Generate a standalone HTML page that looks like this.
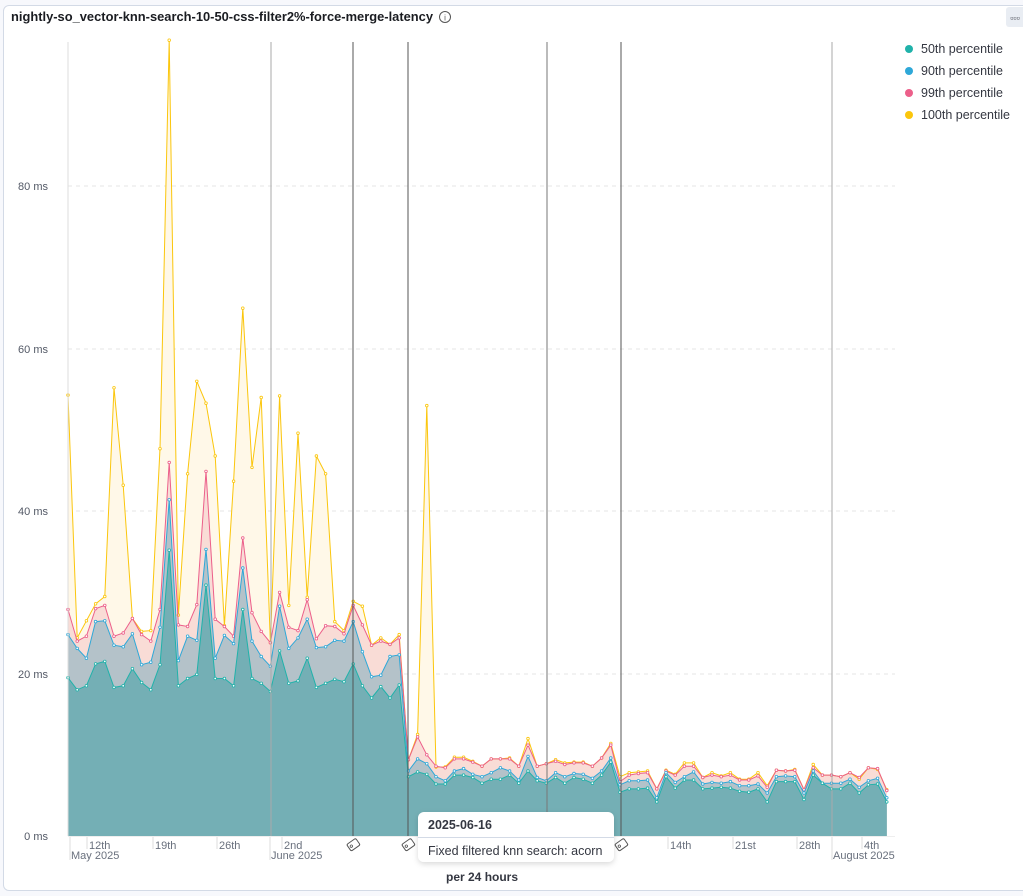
<!DOCTYPE html>
<html><head><meta charset="utf-8"><style>
html,body{margin:0;padding:0;background:#f7f8fc;width:1023px;height:896px;overflow:hidden;font-family:"Liberation Sans",sans-serif}
#panel{position:absolute;left:3px;top:5px;width:1030px;height:884px;background:#fff;border:1px solid #d3dae6;border-radius:6px}
</style></head><body>
<div id="panel"></div>
<svg id="s" width="1023" height="896" style="position:absolute;left:0;top:0" xmlns="http://www.w3.org/2000/svg" font-family="Liberation Sans, sans-serif">
<text x="11" y="21" font-size="13" font-weight="bold" fill="#1a1c21" textLength="422" lengthAdjust="spacingAndGlyphs">nightly-so_vector-knn-search-10-50-css-filter2%-force-merge-latency</text>
<circle cx="445" cy="17" r="5.5" fill="none" stroke="#555" stroke-width="1"/>
<text x="445" y="20.5" font-size="8" text-anchor="middle" fill="#555">i</text>
<rect x="1006" y="7" width="20" height="20" rx="3" fill="#e9edf3"/>
<text x="1015" y="21" font-size="9" fill="#343741" text-anchor="middle">▫▫▫</text>
<g id="grid" stroke="#e6e6e6" stroke-dasharray="4,4" stroke-width="1">
<line x1="68" x2="895" y1="186" y2="186"/><line x1="68" x2="895" y1="349" y2="349"/><line x1="68" x2="895" y1="511" y2="511"/><line x1="68" x2="895" y1="674" y2="674"/>
</g>
<g font-size="11" fill="#535966" text-anchor="end">
<text x="48" y="190">80 ms</text><text x="48" y="353">60 ms</text><text x="48" y="515">40 ms</text><text x="48" y="678">20 ms</text><text x="48" y="840">0 ms</text>
</g>
<g id="areas"></g>
<g id="ann"></g>
<g id="xaxis" font-size="11" fill="#69707d"></g>
<g font-size="12.5" fill="#343741">
<circle cx="909" cy="49" r="4" fill="#20b2aa"/><text x="921" y="53">50th percentile</text>
<circle cx="909" cy="71" r="4" fill="#2ea8d8"/><text x="921" y="75">90th percentile</text>
<circle cx="909" cy="93" r="4" fill="#ec5f8a"/><text x="921" y="97">99th percentile</text>
<circle cx="909" cy="115" r="4" fill="#fbc60c"/><text x="921" y="119">100th percentile</text>
</g>
<defs><filter id="sh" x="-10%" y="-20%" width="120%" height="150%"><feDropShadow dx="0" dy="2" stdDeviation="3" flood-color="#000" flood-opacity="0.15"/></filter></defs>
<rect x="418" y="812" width="196" height="50" rx="6" fill="#fff" filter="url(#sh)"/>
<line x1="418" x2="614" y1="837.5" y2="837.5" stroke="#d3dae6"/>
<text x="428" y="829" font-size="12.5" font-weight="bold" fill="#343741">2025-06-16</text>
<text x="428" y="855" font-size="12.5" fill="#343741">Fixed filtered knn search: acorn</text>
<text x="446" y="881" font-size="12" font-weight="bold" fill="#343741">per 24 hours</text>
</svg>
<script>
var y100=[54.3,24.4,26.5,28.6,29.5,55.2,43.2,26.8,25.2,25.3,47.7,98,27.2,44.6,56,53.3,46.8,25.9,43.7,65,45.4,54,23.8,54.2,28.4,49.6,29.4,46.8,44.6,26.4,25.3,28.9,28.3,23.5,24.4,23.6,24.8,
9.4,12.5,53,8.5,8.5,9.7,9.7,9.2,8.6,9.5,9.5,9.6,8.6,12,8.6,8.9,9.4,9,9.1,9.1,8.6,9.6,11.4,7.3,7.8,7.9,8,5.8,8.1,7.6,9,9,7.2,7.8,7.4,7.8,7,7,7.8,6.2,8.1,8,8.2,5.7,8.8,7.5,7.5,7.3,7.8,7,8.4,8.2,5.7];
var y99=[27.9,24,24.6,28,28.4,24.6,25,26.8,24.8,24,27.9,46,26,25.8,28.5,44.9,26.7,25.8,24.6,36.7,27.5,25.2,23.8,30,25.7,25.3,29.1,24.3,25.9,25.8,24.9,28.4,26,23.5,24,23.6,24.4,
9.4,12.2,10,8.6,8.4,9.5,9.5,9.1,8.6,9.5,9.5,9.5,8.6,11.2,8.6,8.9,9.2,8.8,9,9,8.6,9.6,11.2,6.7,7.5,7.7,7.8,5.8,8,7.5,8.6,8.6,7.2,7.5,7.3,7.5,6.9,6.9,7.4,6,8.1,8,8.1,5.7,8.4,7.5,7.5,7.3,7.8,7.2,8.4,8.3,5.6];
var y90=[24.8,23.1,21.9,26.4,26.5,23.5,23.3,24.9,21.1,21.4,25.7,41.4,21.6,24.6,24.1,35.3,21.9,24.7,23.7,33,24,22.1,20.9,28.3,23.1,24.4,26.7,23.2,23.3,24.1,24,26.4,22.7,19.6,19.8,22.1,22.3,
8,9.5,8.9,7.3,6.8,8,8.3,7.6,7.3,7.8,8.4,8,6.9,9.8,7.2,6.8,7.8,7.3,7.7,7.6,7.1,8,9.6,6.3,6.8,6.8,6.9,4.7,7.8,6.6,7.3,7.9,6.4,6.6,6.5,6.7,6.2,6.2,6.4,5.3,7.3,7.4,7.3,5.3,8,6.5,6.5,6.5,7,6,6.8,7.1,4.7];
var y50=[19.5,18,18.5,21.2,21.5,18.3,18.5,20.6,18.9,18,21.1,35.2,18.5,19.4,19.9,30.9,19.4,19.4,18.5,27.9,19.4,18.8,17.8,22.8,18.8,19.1,21.9,18.3,18.8,19.3,19,21.2,18.5,17,18.4,17,18.6,
7.3,7.9,7.6,6.4,6.4,7.5,7.5,7.2,6.5,7,7,7.5,6.5,8,6.8,6.5,7.2,6.5,7.2,7,6.5,7.5,9.1,5.4,5.8,5.8,5.9,4.2,7.3,5.9,6.9,6.9,5.8,5.9,6,5.9,5.5,5.4,5.8,4.2,6.7,6.7,6.7,4.5,7.5,6.5,5.8,5.8,6.5,5.3,6.3,6.4,4.2];
function X(i){return 68+i*9.2}function Y(v){return 836-v*8.12}
var g=document.getElementById('areas'),h='';
var ser=[[y100,'#fff8e8','#fbc60c'],[y99,'#f9dcd6','#ec5f8a'],[y90,'#b4c2c9','#2ea8d8'],[y50,'#74afb5','#20b2aa']];
ser.forEach(function(s){var pts=s[0].map(function(v,i){return X(i).toFixed(1)+','+Y(v).toFixed(1)}).join(' ');
h+='<polygon points="68,836 '+pts+' '+X(89).toFixed(1)+',836" fill="'+s[1]+'"/>';});
ser.forEach(function(s){var pts=s[0].map(function(v,i){return X(i).toFixed(1)+','+Y(v).toFixed(1)}).join(' ');
h+='<polyline points="'+pts+'" fill="none" stroke="'+s[2]+'" stroke-width="1"/>';
s[0].forEach(function(v,i){h+='<circle cx="'+X(i).toFixed(1)+'" cy="'+Y(v).toFixed(1)+'" r="1.3" fill="#fff" stroke="'+s[2]+'" stroke-width="0.8"/>'});});
g.innerHTML=h;
var a='',L=[[68,'#ddd'],[271,'#aaa'],[353,'#555'],[408,'#555'],[547,'#777'],[621,'#555'],[832,'#aaa']];
L.forEach(function(l){a+='<line x1="'+l[0]+'" x2="'+l[0]+'" y1="42" y2="836" stroke="'+l[1]+'" stroke-width="1"/>'});
[353,408,621].forEach(function(x){a+='<g transform="translate('+x+',845) rotate(-35)"><rect x="-5" y="-4" width="11" height="8" rx="1.5" fill="#fff" stroke="#555" stroke-width="1"/><circle cx="-2" cy="0" r="1.2" fill="none" stroke="#555" stroke-width="0.8"/></g>'});
document.getElementById('ann').innerHTML=a;
var t='<line x1="68" x2="895" y1="836.5" y2="836.5" stroke="#eee"/>';
[[87,'12th'],[153,'19th'],[217,'26th'],[282,'2nd'],[668,'14th'],[733,'21st'],[797,'28th'],[862,'4th']].forEach(function(k){t+='<line x1="'+k[0]+'" x2="'+k[0]+'" y1="837" y2="849" stroke="#ddd"/><text x="'+(k[0]+2)+'" y="849">'+k[1]+'</text>'});
[[70,'May 2025'],[270,'June 2025'],[832,'August 2025']].forEach(function(k){t+='<line x1="'+k[0]+'" x2="'+k[0]+'" y1="837" y2="860" stroke="#ddd"/><text x="'+(k[0]+1)+'" y="859">'+k[1]+'</text>'});
document.getElementById('xaxis').innerHTML=t;
</script>
</body></html>
